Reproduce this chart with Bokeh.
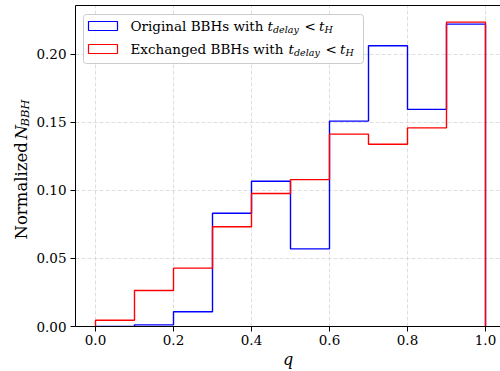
import numpy as np
from bokeh.plotting import figure
from bokeh.layouts import row
from bokeh.models import (Range1d, LinearAxis, FixedTicker, Label, BoxAnnotation,
                          NumeralTickFormatter)
from bokeh.embed import file_html
from bokeh.resources import INLINE

# Mass-ratio histogram of merging BBHs (normalized counts per bin)
bin_edges = [0.0, 0.1, 0.2, 0.3, 0.4, 0.5, 0.6, 0.7, 0.8, 0.9, 1.0]
original = [0.0, 0.0012, 0.0108, 0.0833, 0.1068, 0.0571, 0.1510, 0.2064, 0.1596, 0.2223]
exchanged = [0.0046, 0.0265, 0.0429, 0.0733, 0.0978, 0.1080, 0.1414, 0.1340, 0.1460, 0.2238]
x_ticks = [0.0, 0.2, 0.4, 0.6, 0.8, 1.0]
y_ticks = [0.0, 0.05, 0.10, 0.15, 0.20]

SERIF = "DejaVu Serif"
LEFT_W = 32


def step_outline(edges, heights):
    """Outline of a step histogram: up from zero, across each bin, back to zero."""
    xs, ys = [edges[0]], [0.0]
    for i, h in enumerate(heights):
        xs += [edges[i], edges[i + 1]]
        ys += [h, h]
    xs.append(edges[-1])
    ys.append(0.0)
    return xs, ys


def screen_label(text, x, y, size, style="normal", angle=0.0, align="left"):
    return Label(x=x, y=y, x_units="screen", y_units="screen", text=text,
                 angle=angle, text_font=SERIF, text_font_size=size,
                 text_font_style=style, text_color="black",
                 text_baseline="middle", text_align=align)


p = figure(width=500 - LEFT_W, height=371, output_backend="svg", toolbar_location=None,
           x_range=Range1d(-0.05128, 1.03846), y_range=Range1d(0.0, 0.236),
           min_border_left=75 - LEFT_W, min_border_right=0, min_border_top=5,
           min_border_bottom=45,
           background_fill_color="white", border_fill_color="white")
p.outline_line_color = None
p.outline_line_alpha = 0.0

# axes
for ax in (p.xaxis[0], p.yaxis[0]):
    ax.axis_line_color = "black"
    ax.axis_line_width = 1
    ax.major_tick_line_color = "black"
    ax.major_tick_in = 0
    ax.major_tick_out = 5
    ax.minor_tick_line_color = None
    ax.major_label_text_font = SERIF
    ax.major_label_text_font_size = "13.5px"
    ax.major_label_text_color = "black"
    ax.major_label_standoff = 3

p.xaxis.ticker = FixedTicker(ticks=x_ticks)
p.yaxis.ticker = FixedTicker(ticks=y_ticks)
p.xaxis.formatter = NumeralTickFormatter(format="0.0")
p.yaxis.formatter = NumeralTickFormatter(format="0.00")
p.yaxis.major_label_standoff = 4
p.xaxis.axis_label = "q"
p.xaxis.axis_label_text_font = SERIF
p.xaxis.axis_label_text_font_style = "italic"
p.xaxis.axis_label_text_font_size = "16px"
p.xaxis.axis_label_text_color = "black"
p.xaxis.axis_label_standoff = 2

# top spine (no ticks, no labels)
top = LinearAxis(ticker=FixedTicker(ticks=[]), major_tick_out=0, major_tick_in=0,
                 major_label_standoff=0, minor_tick_line_color=None,
                 axis_line_color="black", axis_line_width=1)
p.add_layout(top, "above")

# grid
for g in (p.xgrid[0], p.ygrid[0]):
    g.grid_line_color = "#d6d6d6"
    g.grid_line_dash = "4 2"
    g.grid_line_width = 0.8
p.xgrid.ticker = FixedTicker(ticks=x_ticks)
p.ygrid.ticker = FixedTicker(ticks=y_ticks)

# histograms
bx, by = step_outline(bin_edges, original)
rx, ry = step_outline(bin_edges, exchanged)
p.line(bx, by, line_color="blue", line_width=1.4)
p.line(rx, ry, line_color="red", line_width=1.4)

# legend box
p.add_layout(BoxAnnotation(left=8, right=288, top=312, bottom=263,
                           left_units="screen", right_units="screen",
                           top_units="screen", bottom_units="screen",
                           fill_color="white", fill_alpha=0.8,
                           line_color="#cccccc", line_alpha=1.0, line_width=1,
                           border_radius=3))
entries = [("blue", "Original BBHs with", 300.5, 0),
           ("red", "Exchanged BBHs with", 277.5, 21)]
for color, text, yc, shift in entries:
    p.add_layout(BoxAnnotation(left=13, right=42, top=yc + 4.5, bottom=yc - 4.5,
                               left_units="screen", right_units="screen",
                               top_units="screen", bottom_units="screen",
                               fill_alpha=0.0, line_color=color, line_alpha=1.0,
                               line_width=1.2))
    p.add_layout(screen_label(text, 55, yc, "13.5px"))
    # t_delay < t_H
    parts = [("t", 192, 0, "13.5px", "italic"),
             ("delay", 197.5, -3.5, "9.5px", "italic"),
             ("<", 229, 0, "13.5px", "normal"),
             ("t", 243.5, 0, "13.5px", "italic"),
             ("H", 249, -3.5, "9.5px", "italic")]
    for s, dx, dy, fs, style in parts:
        p.add_layout(screen_label(s, dx + shift, yc + dy, fs, style))

# y axis title panel: Normalized N_BBH (frame is aligned with the main plot's frame)
side = figure(width=LEFT_W, height=371, output_backend="svg", toolbar_location=None,
              x_axis_location=None, y_axis_location=None,
              x_range=Range1d(0, 1), y_range=Range1d(0, 1),
              min_border=0, outline_line_color=None,
              background_fill_color="white", border_fill_color="white")
side.outline_line_color = None
side.grid.visible = False
side.add_layout(screen_label("Normalized", 21, 87, "16.5px", angle=np.pi / 2))
side.add_layout(screen_label("N", 21, 187, "16.5px", "italic", angle=np.pi / 2))
side.add_layout(screen_label("BBH", 24.5, 200, "11.5px", "italic", angle=np.pi / 2))

layout = row(side, p, spacing=0)
open("out.html", "w").write(file_html(layout, INLINE))
